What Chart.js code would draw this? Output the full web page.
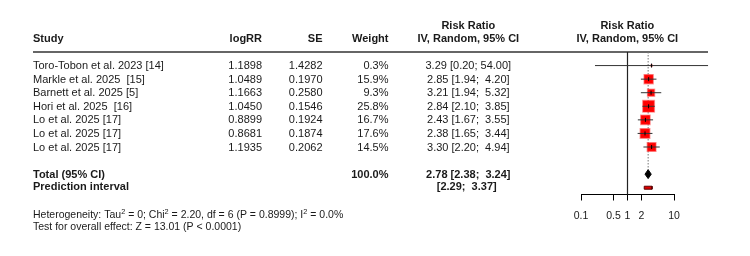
<!DOCTYPE html>
<html>
<head>
<meta charset="utf-8">
<script src="https://cdn.jsdelivr.net/npm/chart.js@4.4.1/dist/chart.umd.min.js"></script>
<style>
  html, body { margin: 0; padding: 0; background: #fff; }
  canvas { display: block; }
</style>
</head>
<body>
<canvas id="forestChart" width="750" height="256"></canvas>
<script>
var studies = [
    "Toro-Tobon et al. 2023 [14]",
    "Markle et al. 2025  [15]",
    "Barnett et al. 2025 [5]",
    "Hori et al. 2025  [16]",
    "Lo et al. 2025 [17]",
    "Lo et al. 2025 [17]",
    "Lo et al. 2025 [17]"
];
var logRR = [1.1898, 1.0489, 1.1663, 1.0450, 0.8899, 0.8681, 1.1935];
var se = [1.4282, 0.1970, 0.2580, 0.1546, 0.1924, 0.1874, 0.2062];
var weights = [0.3, 15.9, 9.3, 25.8, 16.7, 17.6, 14.5];
var riskRatio = [3.29, 2.85, 3.21, 2.84, 2.43, 2.38, 3.30];
var ciLow = [0.20, 1.94, 1.94, 2.10, 1.67, 1.65, 2.20];
var ciHigh = [54.00, 4.20, 5.32, 3.85, 3.55, 3.44, 4.94];
var totalRR = 2.78;
var totalCI = [2.38, 3.24];
var predInterval = [2.29, 3.37];
var axisTicks = [0.1, 0.5, 1, 2, 10];
var hetTau2 = "0", hetChi2 = "2.20", hetDf = "6", hetP = "0.8999", hetI2 = "0.0";
var testZ = "13.01", testP = "< 0.0001";

var FONT = '"Liberation Sans", Arial, sans-serif';
var INK = "#1a1a1a";
var TOTAL_ROW = 8, PRED_ROW = 9;
var DIAMOND_H = 0.33, PRED_H = 0.11;

function fmtCI(est, lo, hi) {
    var s = "[" + lo.toFixed(2) + "; " + hi.toFixed(2).padStart(5, " ") + "]";
    return est === null ? s : est.toFixed(2) + " " + s;
}

function boxRadius(w) {
    var side = 11.5 * Math.sqrt(w / 25.8);
    return side / Math.SQRT2;
}

// tekst з верхніми індексами
function drawRich(ctx, parts, x, y, size) {
    parts.forEach(function (p) {
        if (p[1]) {
            ctx.font = (size * 0.7) + "px " + FONT;
            ctx.fillText(p[0], x, y - size * 0.38);
        } else {
            ctx.font = size + "px " + FONT;
            ctx.fillText(p[0], x, y);
        }
        x += ctx.measureText(p[0]).width;
    });
}

var tablePlugin = {
    id: "forestTable",
    beforeDatasetsDraw: function (chart) {
        var ctx = chart.ctx;
        var yTop = chart.scales.y.getPixelForValue(-1);
        ctx.save();
        ctx.strokeStyle = "#333";
        ctx.lineWidth = 1.4;
        ctx.beginPath();
        ctx.moveTo(33, yTop);
        ctx.lineTo(708, yTop);
        ctx.stroke();
        ctx.restore();
    },
    afterDraw: function (chart) {
        var ctx = chart.ctx;
        var yScale = chart.scales.y;
        var reg = "11px " + FONT, bold = "bold 11px " + FONT;
        ctx.save();
        ctx.fillStyle = INK;
        ctx.textBaseline = "middle";

        // header
        ctx.font = bold;
        ctx.textAlign = "left";
        ctx.fillText("Study", 33, 39);
        ctx.textAlign = "right";
        ctx.fillText("logRR", 262, 39);
        ctx.fillText("SE", 322.5, 39);
        ctx.fillText("Weight", 388.5, 39);
        ctx.textAlign = "center";
        ctx.fillText("Risk Ratio", 468.3, 25.5);
        ctx.fillText("IV, Random, 95% CI", 468.3, 39);
        ctx.fillText("Risk Ratio", 627.3, 25.5);
        ctx.fillText("IV, Random, 95% CI", 627.3, 39);

        // studies
        ctx.font = reg;
        studies.forEach(function (name, i) {
            var y = yScale.getPixelForValue(i) + 0.5;
            ctx.textAlign = "left";
            ctx.fillText(name, 33, y);
            ctx.textAlign = "right";
            ctx.fillText(logRR[i].toFixed(4), 262, y);
            ctx.fillText(se[i].toFixed(4), 322.5, y);
            ctx.fillText(weights[i].toFixed(1) + "%", 388.5, y);
            ctx.textAlign = "center";
            ctx.fillText(fmtCI(riskRatio[i], ciLow[i], ciHigh[i]), 468.3, y);
        });

        // total + prediction
        ctx.font = bold;
        var yT = yScale.getPixelForValue(TOTAL_ROW) + 0.5;
        var yP = yScale.getPixelForValue(PRED_ROW) - 0.5;
        ctx.textAlign = "left";
        ctx.fillText("Total (95% CI)", 33, yT);
        ctx.fillText("Prediction interval", 33, yP);
        ctx.textAlign = "right";
        ctx.fillText("100.0%", 388.5, yT);
        ctx.textAlign = "center";
        ctx.fillText(fmtCI(totalRR, totalCI[0], totalCI[1]), 468.3, yT);
        ctx.fillText(fmtCI(null, predInterval[0], predInterval[1]), 466.7, yP);

        // heterogeneity
        ctx.textAlign = "left";
        drawRich(ctx, [
            ["Heterogeneity: Tau", false], ["2", true],
            [" = " + hetTau2 + "; Chi", false], ["2", true],
            [" = " + hetChi2 + ", df = " + hetDf + " (P = " + hetP + "); I", false], ["2", true],
            [" = " + hetI2 + "%", false]
        ], 33, 215.5, 10.5);
        drawRich(ctx, [["Test for overall effect: Z = " + testZ + " (P " + testP + ")", false]], 33, 227.5, 10.5);
        ctx.restore();
    }
};

window.addEventListener("load", function () {
    var datasets = [];

    // лінія відсутності ефекту
    datasets.push({
        data: [{ x: 1, y: -1 }, { x: 1, y: 9.5 }],
        borderColor: "#222", borderWidth: 1.2, pointRadius: 0, order: 9
    });
    // пунктир сумарного ефекту
    datasets.push({
        data: [{ x: totalRR, y: -1 }, { x: totalRR, y: TOTAL_ROW - DIAMOND_H }],
        borderColor: "#777", borderWidth: 1, borderDash: [1.5, 1.5], pointRadius: 0, order: 8
    });
    // квадрати
    datasets.push({
        data: riskRatio.map(function (v, i) { return { x: v, y: i }; }),
        showLine: false,
        pointStyle: "rect",
        pointRadius: function (c) { return c.dataIndex === undefined ? 3 : boxRadius(weights[c.dataIndex]); },
        backgroundColor: "#ff0000",
        borderColor: "rgba(255,50,50,0.45)",
        borderWidth: 1.5,
        order: 5
    });
    // довірчі інтервали
    studies.forEach(function (s, i) {
        datasets.push({
            data: [{ x: ciLow[i], y: i }, { x: ciHigh[i], y: i }],
            borderColor: "#333", borderWidth: 1, pointRadius: 0, order: 3
        });
    });
    // точкові оцінки
    datasets.push({
        data: riskRatio.map(function (v, i) { return { x: v, y: i }; }),
        showLine: false, pointStyle: "line", rotation: 90, pointRadius: 2,
        borderColor: "#000", borderWidth: 1, order: 2
    });
    // ромб
    datasets.push({
        data: [
            { x: totalCI[0], y: TOTAL_ROW }, { x: totalRR, y: TOTAL_ROW - DIAMOND_H },
            { x: totalCI[1], y: TOTAL_ROW }, { x: totalRR, y: TOTAL_ROW + DIAMOND_H },
            { x: totalCI[0], y: TOTAL_ROW }
        ],
        fill: "shape", backgroundColor: "#000", borderColor: "#000", borderWidth: 1,
        pointRadius: 0, order: 1
    });
    // інтервал прогнозу
    datasets.push({
        data: [
            { x: predInterval[0], y: PRED_ROW - PRED_H }, { x: predInterval[1], y: PRED_ROW - PRED_H },
            { x: predInterval[1], y: PRED_ROW + PRED_H }, { x: predInterval[0], y: PRED_ROW + PRED_H },
            { x: predInterval[0], y: PRED_ROW - PRED_H }
        ],
        fill: "shape", backgroundColor: "#e00000", borderColor: "#5a0000", borderWidth: 1,
        pointRadius: 0, order: 1
    });

    datasets.forEach(function (d) { d.clip = false; });

    var ctx = document.getElementById("forestChart").getContext("2d");
    new Chart(ctx, {
        type: "line",
        data: { datasets: datasets },
        plugins: [tablePlugin],
        options: {
            responsive: false,
            animation: false,
            devicePixelRatio: 1,
            layout: { padding: { left: 581, right: 76, top: 52, bottom: 0 } },
            plugins: { legend: { display: false }, tooltip: { enabled: false } },
            elements: { line: { tension: 0 } },
            scales: {
                x: {
                    type: "logarithmic", min: 0.1, max: 10,
                    afterBuildTicks: function (s) { s.ticks = axisTicks.map(function (v) { return { value: v }; }); },
                    afterFit: function (s) { s.height = 256 - 194.5; },
                    grid: { drawOnChartArea: false, drawTicks: true, tickLength: 6, color: "#000", lineWidth: 1 },
                    border: { display: true, color: "#000", width: 1 },
                    ticks: {
                        autoSkip: false, maxRotation: 0, padding: 9, color: INK,
                        font: { family: FONT, size: 10.5 },
                        callback: function (v) { return String(v); }
                    }
                },
                y: { type: "linear", min: -1, max: 9.5, reverse: true, display: false }
            }
        }
    });
});
</script>
</body>
</html>
